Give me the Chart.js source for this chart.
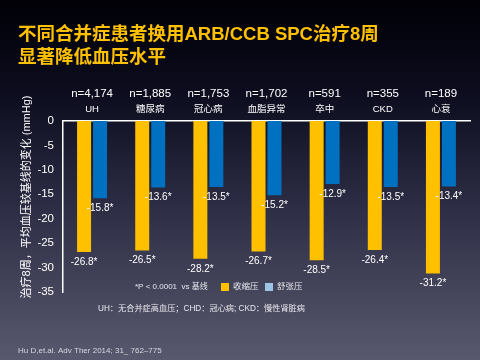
<!DOCTYPE html>
<html>
<head>
<meta charset="utf-8">
<script src="https://cdn.jsdelivr.net/npm/chart.js@4"></script>
<style>
  html, body { margin: 0; padding: 0; }
  body { width: 480px; height: 360px; overflow: hidden;
    background: linear-gradient(to bottom, #000006 0%, #0c0c1e 25%, #2a2a42 55%, #58586e 100%); }
  canvas { display: block; }
</style>
</head>
<body>
<canvas id="bpChart" width="480" height="360"></canvas>
<script>
var categories = ["UH", "糖尿病", "冠心病", "血脂异常", "卒中", "CKD", "心衰"];
var sampleSizes = ["n=4,174", "n=1,885", "n=1,753", "n=1,702", "n=591", "n=355", "n=189"];
var systolic = [-26.8, -26.5, -28.2, -26.7, -28.5, -26.4, -31.2];
var diastolic = [-15.8, -13.6, -13.5, -15.2, -12.9, -13.5, -13.4];
var yTicks = [0, -5, -10, -15, -20, -25, -30, -35];

var FONT = "'Liberation Sans', Arial, 'Noto Sans CJK SC', sans-serif";

var textPlugin = {
  id: 'slideText',
  afterDraw: function (chart) {
    var ctx = chart.ctx;
    var xs = chart.scales.x;
    ctx.save();

    // title
    ctx.fillStyle = '#FFC000';
    ctx.font = 'bold 18.5px ' + FONT;
    ctx.textBaseline = 'middle';
    ctx.textAlign = 'left';
    ctx.fillText('不同合并症患者换用ARB/CCB SPC治疗8周', 18, 35);
    ctx.fillText('显著降低血压水平', 18, 58);

    // n labels and category names above the axis
    ctx.fillStyle = '#ffffff';
    ctx.textAlign = 'center';
    categories.forEach(function (c, i) {
      var x = xs.getPixelForValue(i);
      ctx.font = '11.5px ' + FONT;
      ctx.fillText(sampleSizes[i], x, 94);
      ctx.font = '9.5px ' + FONT;
      ctx.fillText(c, x, 109);
    });

    // values under bar ends
    ctx.font = '10px ' + FONT;
    chart.data.datasets.forEach(function (ds, di) {
      chart.getDatasetMeta(di).data.forEach(function (bar, i) {
        ctx.fillText(ds.data[i].toFixed(1) + '*', bar.x, bar.y + 10);
      });
    });

    // y axis title
    ctx.save();
    ctx.translate(27, 197);
    ctx.rotate(-Math.PI / 2);
    ctx.font = '11px ' + FONT;
    ctx.fillStyle = '#ffffff';
    ctx.fillText('治疗8周，平均血压较基线的变化 (mmHg)', 0, 0);
    ctx.restore();

    // legend
    ctx.font = '8px ' + FONT;
    ctx.fillStyle = '#e8e8ee';
    ctx.textAlign = 'left';
    ctx.fillText('*P < 0.0001  vs 基线', 135, 287);
    ctx.fillStyle = '#FFC000';
    ctx.fillRect(221, 283, 8, 8);
    ctx.fillStyle = '#e8e8ee';
    ctx.font = '8.5px ' + FONT;
    ctx.fillText('收缩压', 233, 287);
    ctx.fillStyle = '#9DC3E6';
    ctx.fillRect(265, 283, 8, 8);
    ctx.fillStyle = '#e8e8ee';
    ctx.fillText('舒张压', 277, 287);

    // footnotes
    ctx.font = '8.2px ' + FONT;
    ctx.fillText('UH：无合并症高血压；CHD：冠心病; CKD：慢性肾脏病', 98, 309);
    ctx.font = '8px ' + FONT;
    ctx.fillStyle = '#d8d8e0';
    ctx.fillText('Hu D,et.al. Adv Ther 2014; 31_ 762–775', 18, 351);
    ctx.restore();
  }
};

new Chart(document.getElementById('bpChart'), {
  type: 'bar',
  data: {
    labels: categories,
    datasets: [{
      label: '收缩压',
      data: systolic,
      backgroundColor: '#FFC000',
      categoryPercentage: 0.55,
      barPercentage: 0.875
    }, {
      label: '舒张压',
      data: diastolic,
      backgroundColor: '#0070C0',
      categoryPercentage: 0.55,
      barPercentage: 0.875
    }]
  },
  options: {
    responsive: false,
    animation: false,
    devicePixelRatio: 1,
    layout: { padding: { left: 0, top: 0, right: 10, bottom: 68 } },
    plugins: { legend: { display: false }, tooltip: { enabled: false } },
    scales: {
      x: {
        position: 'top',
        grid: { display: false, drawTicks: false },
        border: { color: '#ffffff', width: 1.5 },
        ticks: { display: false },
        afterFit: function (s) { s.height = 121; }
      },
      y: {
        min: -35,
        max: 0,
        grid: { display: false, drawTicks: false },
        border: { color: '#ffffff', width: 1.5 },
        afterFit: function (s) { s.width = 63; },
        afterBuildTicks: function (s) { s.ticks = yTicks.map(function (v) { return { value: v }; }); },
        ticks: { color: '#ffffff', padding: 9, font: { size: 11.5, family: FONT } }
      }
    }
  },
  plugins: [textPlugin]
});
</script>
</body>
</html>
